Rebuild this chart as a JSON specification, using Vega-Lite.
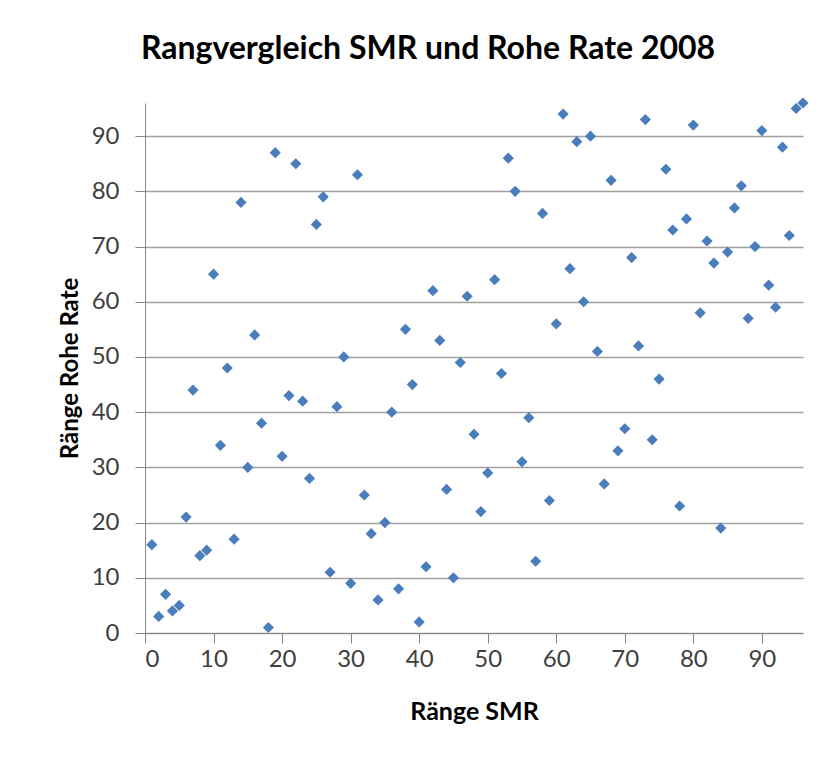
{
  "$schema": "https://vega.github.io/schema/vega-lite/v6.json",
  "autosize": {"type": "none"},
  "width": 658,
  "height": 530,
  "padding": {"left": 145, "top": 103, "right": 35, "bottom": 126},
  "background": "white",
  "config": {
    "font": "Lato",
    "view": {"stroke": null}
  },
  "title": {
    "text": "Rangvergleich SMR und Rohe Rate 2008",
    "font": "Lato",
    "fontSize": 32,
    "fontWeight": "bold",
    "color": "#000000",
    "anchor": "middle",
    "dx": -46,
    "offset": 31
  },
  "data": {
    "values": [
      {"smr": 1, "rate": 16}, {"smr": 2, "rate": 3}, {"smr": 3, "rate": 7}, {"smr": 4, "rate": 4},
      {"smr": 5, "rate": 5}, {"smr": 6, "rate": 21}, {"smr": 7, "rate": 44}, {"smr": 8, "rate": 14},
      {"smr": 9, "rate": 15}, {"smr": 10, "rate": 65}, {"smr": 11, "rate": 34}, {"smr": 12, "rate": 48},
      {"smr": 13, "rate": 17}, {"smr": 14, "rate": 78}, {"smr": 15, "rate": 30}, {"smr": 16, "rate": 54},
      {"smr": 17, "rate": 38}, {"smr": 18, "rate": 1}, {"smr": 19, "rate": 87}, {"smr": 20, "rate": 32},
      {"smr": 21, "rate": 43}, {"smr": 22, "rate": 85}, {"smr": 23, "rate": 42}, {"smr": 24, "rate": 28},
      {"smr": 25, "rate": 74}, {"smr": 26, "rate": 79}, {"smr": 27, "rate": 11}, {"smr": 28, "rate": 41},
      {"smr": 29, "rate": 50}, {"smr": 30, "rate": 9}, {"smr": 31, "rate": 83}, {"smr": 32, "rate": 25},
      {"smr": 33, "rate": 18}, {"smr": 34, "rate": 6}, {"smr": 35, "rate": 20}, {"smr": 36, "rate": 40},
      {"smr": 37, "rate": 8}, {"smr": 38, "rate": 55}, {"smr": 39, "rate": 45}, {"smr": 40, "rate": 2},
      {"smr": 41, "rate": 12}, {"smr": 42, "rate": 62}, {"smr": 43, "rate": 53}, {"smr": 44, "rate": 26},
      {"smr": 45, "rate": 10}, {"smr": 46, "rate": 49}, {"smr": 47, "rate": 61}, {"smr": 48, "rate": 36},
      {"smr": 49, "rate": 22}, {"smr": 50, "rate": 29}, {"smr": 51, "rate": 64}, {"smr": 52, "rate": 47},
      {"smr": 53, "rate": 86}, {"smr": 54, "rate": 80}, {"smr": 55, "rate": 31}, {"smr": 56, "rate": 39},
      {"smr": 57, "rate": 13}, {"smr": 58, "rate": 76}, {"smr": 59, "rate": 24}, {"smr": 60, "rate": 56},
      {"smr": 61, "rate": 94}, {"smr": 62, "rate": 66}, {"smr": 63, "rate": 89}, {"smr": 64, "rate": 60},
      {"smr": 65, "rate": 90}, {"smr": 66, "rate": 51}, {"smr": 67, "rate": 27}, {"smr": 68, "rate": 82},
      {"smr": 69, "rate": 33}, {"smr": 70, "rate": 37}, {"smr": 71, "rate": 68}, {"smr": 72, "rate": 52},
      {"smr": 73, "rate": 93}, {"smr": 74, "rate": 35}, {"smr": 75, "rate": 46}, {"smr": 76, "rate": 84},
      {"smr": 77, "rate": 73}, {"smr": 78, "rate": 23}, {"smr": 79, "rate": 75}, {"smr": 80, "rate": 92},
      {"smr": 81, "rate": 58}, {"smr": 82, "rate": 71}, {"smr": 83, "rate": 67}, {"smr": 84, "rate": 19},
      {"smr": 85, "rate": 69}, {"smr": 86, "rate": 77}, {"smr": 87, "rate": 81}, {"smr": 88, "rate": 57},
      {"smr": 89, "rate": 70}, {"smr": 90, "rate": 91}, {"smr": 91, "rate": 63}, {"smr": 92, "rate": 59},
      {"smr": 93, "rate": 88}, {"smr": 94, "rate": 72}, {"smr": 95, "rate": 95}, {"smr": 96, "rate": 96}
    ]
  },
  "mark": {"type": "point", "shape": "diamond", "filled": true, "size": 125, "color": "#4a7ebb", "opacity": 1},
  "encoding": {
    "x": {
      "field": "smr",
      "type": "quantitative",
      "scale": {"domain": [0, 96], "nice": false, "zero": true},
      "axis": {
        "title": "Ränge SMR",
        "values": [0, 10, 20, 30, 40, 50, 60, 70, 80, 90],
        "grid": false,
        "domainColor": "#868686",
        "tickColor": "#868686",
        "tickSize": 10,
        "labelFontSize": 24,
        "labelColor": "#404040",
        "labelPadding": 4,
        "titleFontSize": 25,
        "titleFontWeight": "bold",
        "titleColor": "#000000",
        "titlePadding": 28
      }
    },
    "y": {
      "field": "rate",
      "type": "quantitative",
      "scale": {"domain": [0, 96], "nice": false, "zero": true},
      "axis": {
        "title": "Ränge Rohe Rate",
        "values": [0, 10, 20, 30, 40, 50, 60, 70, 80, 90],
        "grid": true,
        "gridColor": "#a0a0a0",
        "gridWidth": 1.3,
        "domainColor": "#868686",
        "tickColor": "#868686",
        "tickSize": 10,
        "labelFontSize": 24,
        "labelColor": "#404040",
        "labelPadding": 16,
        "titleFontSize": 24,
        "titleFontWeight": "bold",
        "titleColor": "#000000",
        "titlePadding": 9
      }
    }
  }
}
